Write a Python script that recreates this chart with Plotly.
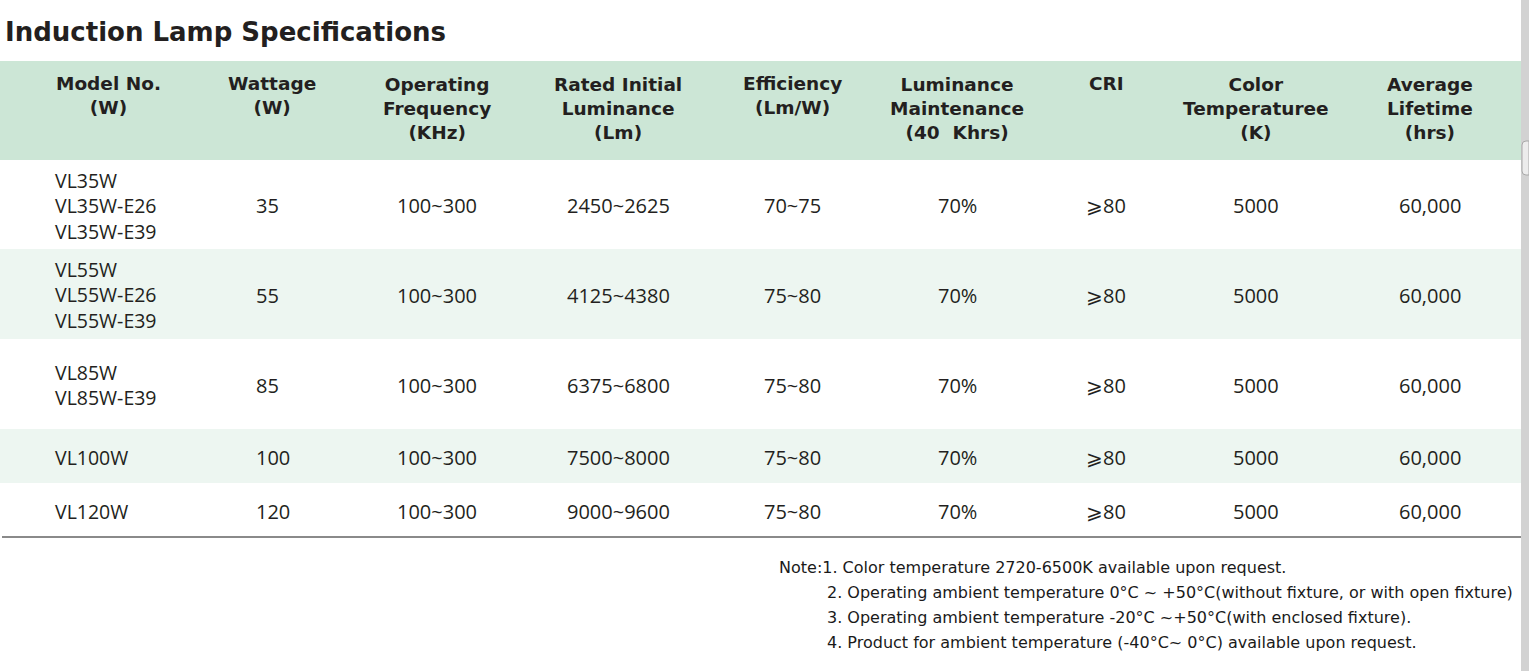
import plotly.graph_objects as go

# table content
headers = [
    ["Model No.", "(W)"],
    ["Wattage", "(W)"],
    ["Operating", "Frequency", "(KHz)"],
    ["Rated Initial", "Luminance", "(Lm)"],
    ["Efficiency", "(Lm/W)"],
    ["Luminance", "Maintenance", "(40  Khrs)"],
    ["CRI"],
    ["Color", "Temperaturee", "(K)"],
    ["Average", "Lifetime", "(hrs)"],
]
models = [
    ["VL35W", "VL35W-E26", "VL35W-E39"],
    ["VL55W", "VL55W-E26", "VL55W-E39"],
    ["VL85W", "VL85W-E39"],
    ["VL100W"],
    ["VL120W"],
]
wattage = ["35", "55", "85", "100", "120"]
frequency = ["100~300", "100~300", "100~300", "100~300", "100~300"]
luminance = ["2450~2625", "4125~4380", "6375~6800", "7500~8000", "9000~9600"]
efficiency = ["70~75", "75~80", "75~80", "75~80", "75~80"]
maintenance = ["70%", "70%", "70%", "70%", "70%"]
cri = ["⩾80", "⩾80", "⩾80", "⩾80", "⩾80"]
color_temp = ["5000", "5000", "5000", "5000", "5000"]
lifetime = ["60,000", "60,000", "60,000", "60,000", "60,000"]
notes = [
    "Note:1. Color temperature 2720-6500K available upon request.",
    "2. Operating ambient temperature 0°C ~ +50°C(without fixture, or with open fixture)",
    "3. Operating ambient temperature -20°C ~+50°C(with enclosed fixture).",
    "4. Product for ambient temperature (-40°C~ 0°C) available upon request.",
]

# layout in page pixels
W, H = 1529, 671
header_x = [108, 272, 437, 618, 792, 957, 1106, 1256, 1430]
row_edges = [160, 249, 339, 429, 483, 537]
row_fill = ["white", "#edf6f1", "white", "#edf6f1", "white"]
ink = "#231f20"
head_font = "DejaVu Sans"
body_font = "Open Sans"

fig = go.Figure()
shapes = []
ann = []

# header band + striped rows
shapes.append(dict(type="rect", x0=0, x1=1521, y0=61, y1=160,
                   fillcolor="#cce6d6", line_width=0, layer="below"))
for i in range(5):
    shapes.append(dict(type="rect", x0=0, x1=1521, y0=row_edges[i], y1=row_edges[i + 1],
                       fillcolor=row_fill[i], line_width=0, layer="below"))
shapes.append(dict(type="line", x0=2, x1=1521, y0=537, y1=537,
                   line=dict(color="#8a8a8a", width=2)))

# title
ann.append(dict(x=3, y=32, text="<b>Induction Lamp Specifications</b>", xanchor="left",
                yanchor="middle", font=dict(family=head_font, size=26, color=ink)))

# headers
for x, lines in zip(header_x, headers):
    yc = 83 + (len(lines) - 1) * 12.5
    ann.append(dict(x=x, y=yc, text="<b>" + "<br>".join(lines) + "</b>", xanchor="center",
                    yanchor="middle", align="center",
                    font=dict(family=head_font, size=18.5, color=ink)))

# body rows
centered_cols = [frequency, luminance, efficiency, maintenance, cri, color_temp, lifetime]
for i in range(5):
    yc = (row_edges[i] + row_edges[i + 1]) / 2 + 1
    ann.append(dict(x=53, y=yc, text="<br>".join(models[i]), xanchor="left", yanchor="middle",
                    align="left", font=dict(family=body_font, size=19.5, color=ink)))
    ann.append(dict(x=254, y=yc, text=wattage[i], xanchor="left", yanchor="middle",
                    font=dict(family=body_font, size=20, color=ink)))
    for x, col in zip(header_x[2:], centered_cols):
        ann.append(dict(x=x, y=yc, text=col[i], xanchor="center", yanchor="middle",
                        font=dict(family=body_font, size=20, color=ink)))

# notes
for k, line in enumerate(notes):
    ann.append(dict(x=777 if k == 0 else 825, y=567 + k * 25, text=line, xanchor="left",
                    yanchor="middle", font=dict(family="DejaVu Sans", size=16, color="#1a1a1a")))

for a in ann:
    a.update(xref="x", yref="y", showarrow=False)

# scrollbar strip on the right
shapes.append(dict(type="rect", x0=1521, x1=W, y0=0, y1=H,
                   fillcolor="#d2d2d2", line_width=0, layer="above"))
shapes.append(dict(type="path",
                   path="M 1529 141 L 1526 141 Q 1522 141 1522 145 L 1522 171 Q 1522 175 1526 175 L 1529 175 Z",
                   fillcolor="#ececec", line=dict(color="#a8a8a8", width=1), layer="above"))

fig.update_layout(
    width=W, height=H, margin=dict(l=0, r=0, t=0, b=0),
    paper_bgcolor="white", plot_bgcolor="white",
    xaxis=dict(range=[0, W], visible=False, fixedrange=True),
    yaxis=dict(range=[H, 0], visible=False, fixedrange=True),
    shapes=shapes, annotations=ann, showlegend=False,
)
fig.write_html("out.html", config={"displayModeBar": False},
               post_script="document.body.style.margin='0';document.body.style.overflow='hidden';")
